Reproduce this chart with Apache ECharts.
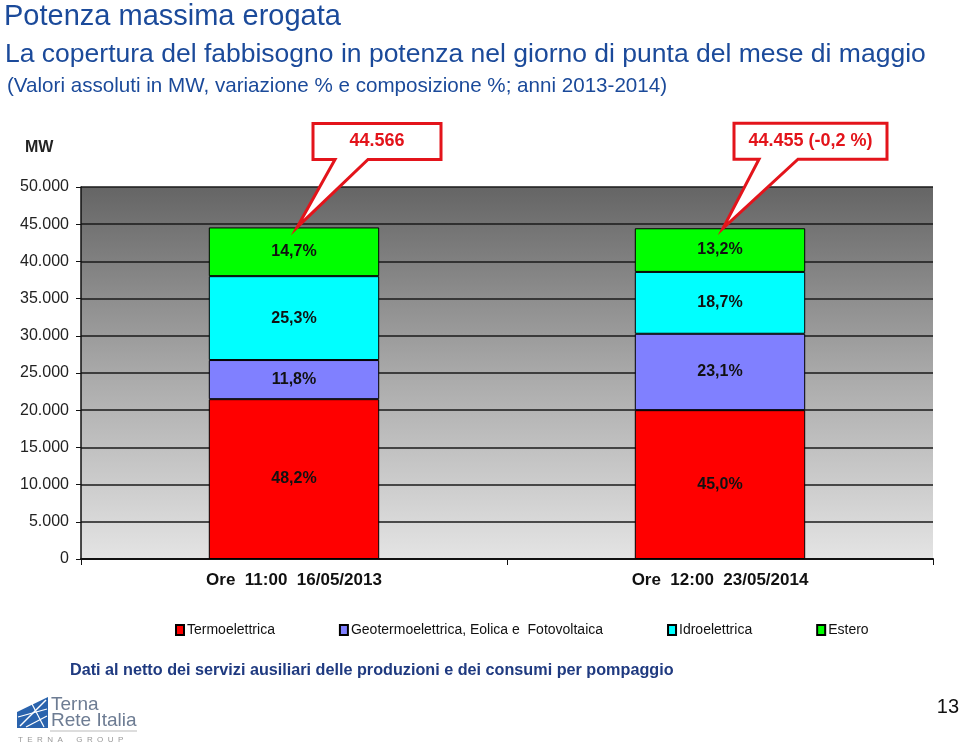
<!DOCTYPE html>
<html>
<head>
<meta charset="utf-8">
<script src="https://cdn.jsdelivr.net/npm/echarts@6/dist/echarts.min.js"></script>
<style>
html,body{margin:0;padding:0;background:#fff;}
#c{width:960px;height:747px;}
</style>
</head>
<body>
<div id="c"></div>
<script>
// ---- Data ----
var categories = ['Ore  11:00  16/05/2013', 'Ore  12:00  23/05/2014'];
var seriesNames = ['Termoelettrica', 'Geotermoelettrica, Eolica e  Fotovoltaica', 'Idroelettrica', 'Estero'];
var termo = [21481, 20005];
var geo = [5259, 10269];
var idro = [11275, 8313];
var estero = [6551, 5868];
var pctTermo = ['48,2%', '45,0%'];
var pctGeo = ['11,8%', '23,1%'];
var pctIdro = ['25,3%', '18,7%'];
var pctEstero = ['14,7%', '13,2%'];
var totals = [44566, 44455];
var calloutText = ['44.566', '44.455 (-0,2 %)'];
var yTicks = {min: 0, max: 50000, interval: 5000};

var FONT = '"Liberation Sans", Arial, Helvetica, sans-serif';
var NARROW = '"Liberation Sans Narrow", "Arial Narrow", "Liberation Sans", sans-serif';
var BLUE = '#1b4a9a';
var colors = ['#ff0000', '#8080ff', '#00ffff', '#00ff00'];

function fmt(v) {
  return String(v).replace(/\B(?=(\d{3})+(?!\d))/g, '.');
}

function mkSeries(name, data, pct, color) {
  return {
    name: name,
    type: 'bar',
    stack: 'tot',
    data: data,
    barWidth: '40%',
    itemStyle: {color: color, borderColor: '#000', borderWidth: 1},
    label: {
      show: true, position: 'inside',
      formatter: function (p) { return pct[p.dataIndex]; },
      fontFamily: FONT, fontWeight: 'bold', fontSize: 16, color: '#111'
    },
    emphasis: {disabled: true}
  };
}

var chart = echarts.init(document.getElementById('c'), null, {renderer: 'canvas'});

var option = {
  animation: false,
  backgroundColor: '#fff',
  textStyle: {fontFamily: FONT},
  grid: {
    left: 81, right: 27, top: 187, bottom: 188,
    show: true, borderWidth: 0,
    backgroundColor: new echarts.graphic.LinearGradient(0, 0, 0, 1, [
      {offset: 0, color: '#656565'},
      {offset: 0.5, color: '#a9a9a9'},
      {offset: 1, color: '#e4e4e4'}
    ])
  },
  xAxis: {
    type: 'category',
    data: categories,
    axisLine: {lineStyle: {color: '#111', width: 2}},
    axisTick: {show: true, length: 6, lineStyle: {color: '#111', width: 1}},
    axisLabel: {fontFamily: FONT, fontWeight: 'bold', fontSize: 17, color: '#111', margin: 13}
  },
  yAxis: {
    type: 'value',
    min: yTicks.min, max: yTicks.max, interval: yTicks.interval,
    axisLine: {show: true, lineStyle: {color: '#111', width: 1.5}},
    axisTick: {show: true, length: 5, lineStyle: {color: '#111'}},
    axisLabel: {fontFamily: FONT, fontSize: 16, color: '#222', margin: 12, formatter: fmt},
    splitLine: {show: true, lineStyle: {color: '#1a1a1a', width: 1.5}}
  },
  legend: {
    left: 170, top: 618,
    icon: 'rect',
    itemWidth: 8, itemHeight: 10, itemGap: 64,
    textStyle: {fontFamily: NARROW, fontSize: 14, color: '#111', padding: [0, 0, 0, -2]},
    data: seriesNames
  },
  series: [
    mkSeries(seriesNames[0], termo, pctTermo, colors[0]),
    mkSeries(seriesNames[1], geo, pctGeo, colors[1]),
    mkSeries(seriesNames[2], idro, pctIdro, colors[2]),
    mkSeries(seriesNames[3], estero, pctEstero, colors[3])
  ]
};

chart.setOption(option);

// ---- Annotations (callouts tied to bar tops) ----
var calloutGeom = [
  {l: 16, r: 144, t: -104, b: -68, b1: 38, b2: 71},
  {l: 11, r: 164, t: -105, b: -69, b1: 36, b2: 75}
];
var graphics = [];
totals.forEach(function (tot, i) {
  var p = chart.convertToPixel({gridIndex: 0}, [i, tot]);
  var tx = p[0] + 3, ty = p[1];
  var g = calloutGeom[i];
  var L = tx + g.l, R = tx + g.r, T = ty + g.t, B = ty + g.b;
  graphics.push({
    type: 'polygon', z: 100,
    shape: {points: [[L, T], [R, T], [R, B], [tx + g.b2, B], [tx, ty], [tx + g.b1, B], [L, B]]},
    style: {fill: '#fff', stroke: '#e3141b', lineWidth: 3}
  });
  graphics.push({
    type: 'text', z: 101,
    x: (L + R) / 2, y: (T + B) / 2,
    style: {text: calloutText[i], fill: '#e3141b', font: 'bold 18px ' + FONT, align: 'center', verticalAlign: 'middle'}
  });
});

// Titles and page texts
graphics.push(
  {type: 'text', x: 4, y: 17, style: {text: 'Potenza massima erogata', fill: BLUE, font: '29px ' + FONT, verticalAlign: 'middle'}},
  {type: 'text', x: 5, y: 55, style: {text: 'La copertura del fabbisogno in potenza nel giorno di punta del mese di maggio', fill: BLUE, font: '26.5px ' + FONT, verticalAlign: 'middle'}},
  {type: 'text', x: 7, y: 86, style: {text: '(Valori assoluti in MW, variazione % e composizione %; anni 2013-2014)', fill: BLUE, font: '20.6px ' + FONT, verticalAlign: 'middle'}},
  {type: 'text', x: 25, y: 148, style: {text: 'MW', fill: '#222', font: 'bold 16px ' + FONT, verticalAlign: 'middle'}},
  {type: 'text', x: 70, y: 671, style: {text: 'Dati al netto dei servizi ausiliari delle produzioni e dei consumi per pompaggio', fill: '#1f3a80', font: 'bold 16.2px ' + FONT, verticalAlign: 'middle'}},
  {type: 'text', x: 959, y: 707, style: {text: '13', fill: '#111', font: '20px ' + FONT, align: 'right', verticalAlign: 'middle'}},
  // logo
  {type: 'polygon', shape: {points: [[17, 712], [48, 697], [48, 728], [17, 728]]}, style: {fill: '#2a63ad'}},
  {type: 'polyline', shape: {points: [[20, 726], [46, 700]]}, style: {stroke: '#fff', lineWidth: 1.5}},
  {type: 'polyline', shape: {points: [[18, 717], [47, 709]]}, style: {stroke: '#fff', lineWidth: 1.2}},
  {type: 'polyline', shape: {points: [[26, 727], [47, 716]]}, style: {stroke: '#fff', lineWidth: 1.2}},
  {type: 'polyline', shape: {points: [[32, 704], [44, 727]]}, style: {stroke: '#fff', lineWidth: 1.2}},
  {type: 'text', x: 51, y: 705, style: {text: 'Terna', fill: '#6d7c93', font: '19px ' + NARROW, verticalAlign: 'middle'}},
  {type: 'text', x: 51, y: 721, style: {text: 'Rete Italia', fill: '#6d7c93', font: '19px ' + NARROW, verticalAlign: 'middle'}},
  {type: 'line', shape: {x1: 50, y1: 731, x2: 137, y2: 731}, style: {stroke: '#bbb', lineWidth: 1}},
  {type: 'text', x: 18, y: 740, style: {text: 'T  E  R  N  A      G  R  O  U  P', fill: '#999', font: '8px ' + FONT, verticalAlign: 'middle'}}
);

chart.setOption({graphic: graphics});
</script>
</body>
</html>
